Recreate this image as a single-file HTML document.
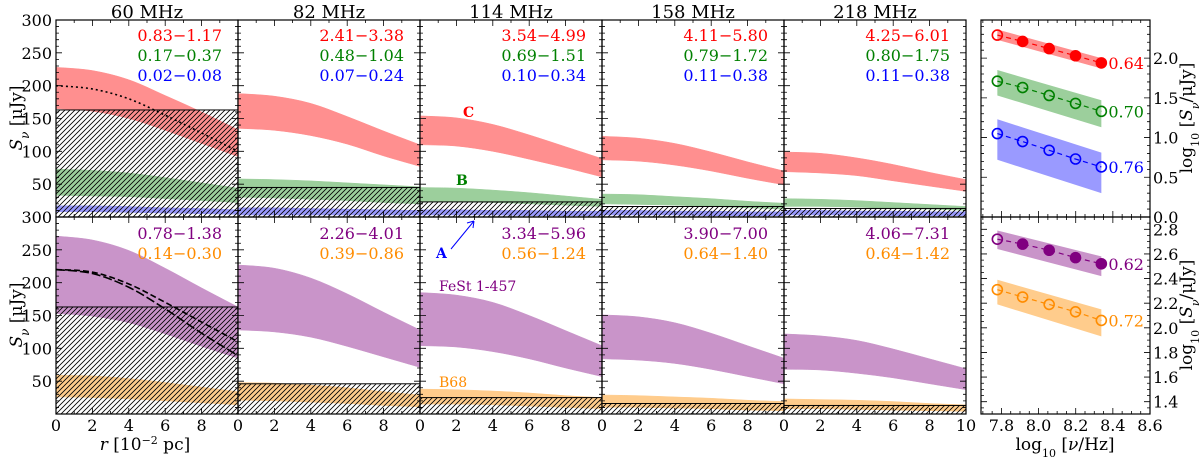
<!DOCTYPE html>
<html><head><meta charset="utf-8">
<style>
html,body{margin:0;padding:0;background:#fff;}
svg{display:block;font-family:"DejaVu Serif","Liberation Serif",serif;}
</style></head>
<body>
<svg id="chart" width="1200" height="459" viewBox="0 0 1200 459" xmlns="http://www.w3.org/2000/svg">
<defs>
<pattern id="hatch" patternUnits="userSpaceOnUse" width="5" height="5">
<path d="M-1,6 L6,-1 M-3.5,3.5 L3.5,-3.5 M1.5,8.5 L8.5,1.5" stroke="#000" stroke-width="0.8"/>
</pattern>
</defs>
<g id="root"></g>
</svg>
<script>
const rGrid=[0,2,4,6,8,10];
const freqLabels=['60 MHz','82 MHz','114 MHz','158 MHz','218 MHz'];
const redUp=[[228,223,209,185,160,133],[188,184,173,153,131,110],[154,151,141,125,107,89],[123,120,112,99,84,70],[99,97,90,80,68,57]];
const redLo=[[165,161,150,132,112,92],[135,132,124,111,93,77],[110,108,100,88,75,61],[87,85,79,70,59,49],[69,67,63,55,47,39]];
const greenUp=[[73,71,67,60,52,44],[58,57,55,52,49,46],[45,44,41,37,32,27],[35,34,31,28,24,21],[28,27,25,22,19,16]];
const greenLo=[[33,32,31,28,25,22],[30,29,27,25,22,20],[24,23,22,20,18,16],[20,19,18,16,14,12],[16,16,15,13,12,10]];
const blueUp=[[17,17,16,14,13,11],[14,14,13,12,11,10],[11,11,10,10,9,9],[10,10,9,9,8,8],[10,10,9,9,8,8]];
const blueLo=[[8,8,7,6,5,4],[3,3,3,3,3,3],[3,3,3,2,2,2],[3,3,3,2,2,2],[3,3,3,2,2,2]];
const dottedC=[200,195,180,155,128,100];
const hatchTop=[163,45,23,16,13];
const purpleUp=[[271,265,249,222,192,163],[227,222,207,183,155,128],[185,181,170,150,127,104],[151,148,139,123,104,85],[122,119,112,99,84,69]];
const purpleLo=[[153,149,139,122,103,85],[128,125,117,103,87,71],[104,102,95,84,70,57],[84,82,77,68,57,46],[68,67,62,55,46,37]];
const orangeUp=[[59,58,54,48,41,34],[48,47,44,40,34,29],[38,37,35,32,28,25],[29,28,26,24,21,19],[23,22,21,19,16,14]];
const orangeLo=[[26,25,23,20,17,14],[21,20,18,16,13,11],[15,15,14,12,10,8],[10,10,9,8,6,5],[8,8,7,6,5,4]];
const dashA=[220,216,198,170,140,110];
const dashB=[220,214,193,160,123,89];
const hatchBot=[163,46,25,16,13];
const rangeRed=['0.83\u22121.17','2.41\u22123.38','3.54\u22124.99','4.11\u22125.80','4.25\u22126.01'];
const rangeGreen=['0.17\u22120.37','0.48\u22121.04','0.69\u22121.51','0.79\u22121.72','0.80\u22121.75'];
const rangeBlue=['0.02\u22120.08','0.07\u22120.24','0.10\u22120.34','0.11\u22120.38','0.11\u22120.38'];
const rangePurple=['0.78\u22121.38','2.26\u22124.01','3.34\u22125.96','3.90\u22127.00','4.06\u22127.31'];
const rangeOrange=['0.14\u22120.30','0.39\u22120.86','0.56\u22121.24','0.64\u22121.40','0.64\u22121.42'];
const yTicksTop=[50,100,150,200,250,300];
const yTicksBot=[50,100,150,200,250,300];
const xTicks=[0,2,4,6,8,10];
const logNu=[7.778,7.914,8.057,8.199,8.338];
const redLog=[2.29,2.21,2.12,2.03,1.94];
const greenLog=[1.71,1.63,1.53,1.43,1.33];
const blueLog=[1.05,0.95,0.84,0.73,0.63];
const purpleLog=[2.72,2.68,2.63,2.57,2.52];
const orangeLog=[2.31,2.25,2.19,2.13,2.06];
const redBandUp=[2.36,2.00];const redBandLo=[2.23,1.87];
const greenBandUp=[1.85,1.47];const greenBandLo=[1.53,1.13];
const blueBandUp=[1.23,0.81];const blueBandLo=[0.72,0.30];
const purpleBandUp=[2.79,2.58];const purpleBandLo=[2.64,2.42];
const orangeBandUp=[2.39,2.15];const orangeBandLo=[2.19,1.93];
const filledRed=[0,1,1,1,1];const filledPurple=[0,1,1,1,1];
const slopeLabels=['0.64','0.70','0.76','0.62','0.72'];
const specXTicks=[7.8,8.0,8.2,8.4,8.6];
const specYTicksTop=[0.0,0.5,1.0,1.5,2.0];
const specYTicksBot=[1.4,1.6,1.8,2.0,2.2,2.4,2.6,2.8];

const NS='http://www.w3.org/2000/svg';
const root=document.getElementById('root');
function mk(tag,attrs,parent){const e=document.createElementNS(NS,tag);for(const k in attrs)e.setAttribute(k,attrs[k]);(parent||root).appendChild(e);return e;}
const P0=56,PW=182;
const TOP={y0:20,y1:217},BOT={y0:217,y1:414};
const VMAX=300;
function xr(i,r){return P0+i*PW+r/10*PW;}
function yv(row,v){return row.y1-v/VMAX*(row.y1-row.y0);}
function smoothPts(pts){let d='';for(let k=0;k<pts.length-1;k++){const p0=pts[Math.max(0,k-1)],p1=pts[k],p2=pts[k+1],p3=pts[Math.min(pts.length-1,k+2)];
const c1=[p1[0]+(p2[0]-p0[0])/6,p1[1]+(p2[1]-p0[1])/6],c2=[p2[0]-(p3[0]-p1[0])/6,p2[1]-(p3[1]-p1[1])/6];
d+=' C'+c1[0].toFixed(2)+','+c1[1].toFixed(2)+' '+c2[0].toFixed(2)+','+c2[1].toFixed(2)+' '+p2[0].toFixed(2)+','+p2[1].toFixed(2);}return d;}
function curvePath(i,row,vals){const pts=rGrid.map((r,k)=>[xr(i,r),yv(row,vals[k])]);return 'M'+pts[0][0]+','+pts[0][1]+smoothPts(pts);}
function bandPath(i,row,up,lo){const pu=rGrid.map((r,k)=>[xr(i,r),yv(row,up[k])]);const pl=rGrid.map((r,k)=>[xr(i,r),yv(row,lo[k])]).reverse();
return 'M'+pu[0][0]+','+pu[0][1]+smoothPts(pu)+' L'+pl[0][0]+','+pl[0][1]+smoothPts(pl)+' Z';}

const defs=document.querySelector('defs');
function clip(id,x,y,w,h){const c=document.createElementNS(NS,'clipPath');c.setAttribute('id',id);const r=document.createElementNS(NS,'rect');r.setAttribute('x',x);r.setAttribute('y',y);r.setAttribute('width',w);r.setAttribute('height',h);c.appendChild(r);defs.appendChild(c);}

function drawPanel(i,row,bands,hatchV,rowName){
  const cid='clip-'+rowName+i;clip(cid,xr(i,0),row.y0,PW,row.y1-row.y0);
  const g=mk('g',{'clip-path':'url(#'+cid+')'});
  
  
  bands.forEach(b=>{const p=mk('path',{d:bandPath(i,row,b.up[i],b.lo[i]),fill:b.fill,stroke:b.fill,'stroke-width':0.5},g);
    
    });
  const hy=yv(row,hatchV[i]);
  const h=mk('rect',{x:xr(i,0),y:hy,width:PW,height:row.y1-hy,fill:'url(#hatch)',stroke:'#000','stroke-width':1},g);
  
  
  return g;
}
function frame(i,row){
  const x0=xr(i,0),x1=xr(i,10);
  const f=mk('rect',{x:x0,y:row.y0,width:PW,height:row.y1-row.y0,fill:'none',stroke:'#000','stroke-width':1.2});
  
  
  let d='';
  for(let v=0;v<=300;v+=10){const y=yv(row,v);const L=(v%50===0)?6:3;d+='M'+x0+','+y+'h'+L+'M'+x1+','+y+'h'+(-L);}
  for(let r=0;r<=10;r+=1){const x=xr(i,r);const L=(r%2===0)?6:3;d+='M'+x+','+row.y0+'v'+L+'M'+x+','+row.y1+'v'+(-L);}
  const t=mk('path',{d:d,stroke:'#000','stroke-width':0.8,fill:'none'});
  
  
}
function txt(x,y,s,attrs,name){const t=mk('text',Object.assign({x:x,y:y},attrs||{}));t.textContent=s;return t;}
function rich(x,y,parts,attrs,name){const t=mk('text',Object.assign({x:x,y:y},attrs||{}));parts.forEach(p=>{const s=document.createElementNS(NS,'tspan');if(p[1])s.setAttribute('font-style','italic');if(p[2])s.setAttribute('baseline-shift',p[2]);if(p[3])s.setAttribute('font-size',p[3]);s.textContent=p[0];t.appendChild(s);});return t;}

const topBands=[{name:'core-c',up:redUp,lo:redLo,fill:'#ff8f8f'},{name:'core-b',up:greenUp,lo:greenLo,fill:'#9ccf9c'},{name:'core-a',up:blueUp,lo:blueLo,fill:'#9a9aff'}];
const botBands=[{name:'fest-1-457',up:purpleUp,lo:purpleLo,fill:'#c994c9'},{name:'b68',up:orangeUp,lo:orangeLo,fill:'#ffcc8c'}];
for(let i=0;i<5;i++){
  drawPanel(i,TOP,topBands,hatchTop,'top');
  drawPanel(i,BOT,botBands,hatchBot,'bottom');
  if(i===0){
    const dl=mk('path',{d:curvePath(0,TOP,dottedC),fill:'none',stroke:'#000','stroke-width':1.6,'stroke-dasharray':'2,3'});
    
    
    const da=mk('path',{d:curvePath(0,BOT,dashA),fill:'none',stroke:'#000','stroke-width':1.6,'stroke-dasharray':'6,3'});
    
    
    const db=mk('path',{d:curvePath(0,BOT,dashB),fill:'none',stroke:'#000','stroke-width':1.6,'stroke-dasharray':'9,3'});
    
    
  }
  frame(i,TOP);frame(i,BOT);
  const cx=xr(i,5);
  txt(cx,18,freqLabels[i],{'text-anchor':'middle','font-size':18},'frequency-title');
  const rx=xr(i,10)-16;
  txt(rx,41,rangeRed[i],{'text-anchor':'end','font-size':16,fill:'#ff0000'},'range-core-c');
  txt(rx,61,rangeGreen[i],{'text-anchor':'end','font-size':16,fill:'#008000'},'range-core-b');
  txt(rx,81,rangeBlue[i],{'text-anchor':'end','font-size':16,fill:'#0000ff'},'range-core-a');
  txt(rx,239,rangePurple[i],{'text-anchor':'end','font-size':16,fill:'#800080'},'range-fest');
  txt(rx,259,rangeOrange[i],{'text-anchor':'end','font-size':16,fill:'#ff8c00'},'range-b68');
  xTicks.forEach(r=>{if(r===10&&i<4)return;txt(xr(i,r),431,String(r),{'text-anchor':'middle','font-size':16},'x-tick-label');});
}
yTicksTop.forEach(v=>txt(52,yv(TOP,v)+6,String(v),{'text-anchor':'end','font-size':16},'y-tick-label-top'));
yTicksBot.forEach(v=>{if(v===300)return;txt(52,yv(BOT,v)+6,String(v),{'text-anchor':'end','font-size':16},'y-tick-label-bottom');});
txt(52,yv(BOT,300)+6,'300',{'text-anchor':'end','font-size':16},'y-tick-label-bottom');
rich(145,450,[['r',true],[' [10'],['\u22122',false,'super','11'],[' pc]']],{'text-anchor':'middle','font-size':17},'x-axis-title');
rich(0,0,[['S',true],['\u03BD',true,'sub','12'],[' [\u03BCJy]']],{'text-anchor':'middle','font-size':17,transform:'translate(22,118) rotate(-90)'},'y-axis-title-top');
rich(0,0,[['S',true],['\u03BD',true,'sub','12'],[' [\u03BCJy]']],{'text-anchor':'middle','font-size':17,transform:'translate(22,315) rotate(-90)'},'y-axis-title-bottom');
txt(463,117,'C',{'font-size':14,'font-weight':'bold',fill:'#ff0000'},'label-core-c');
txt(456,185,'B',{'font-size':14,'font-weight':'bold',fill:'#008000'},'label-core-b');
txt(436,258,'A',{'font-size':14,'font-weight':'bold',fill:'#0000ff'},'label-core-a');
const ar=mk('path',{d:'M451,249 L474,221 M474,221 l-7,2 M474,221 l-1,7',stroke:'#0000ff','stroke-width':1,fill:'none'});


txt(439,291,'FeSt 1-457',{'font-size':14,fill:'#800080'},'label-fest');
txt(439,387,'B68',{'font-size':14,fill:'#ff8c00'},'label-b68');

const SX0=981,SX1=1150,NU0=7.69,NU1=8.6;
function sx(n){return SX0+(n-NU0)/(NU1-NU0)*(SX1-SX0);}
const STOP={y0:20,y1:217,lo:0,hi:2.48},SBOT={y0:217,y1:414,lo:1.3,hi:2.9};
function sy(p,v){return p.y1-(v-p.lo)/(p.hi-p.lo)*(p.y1-p.y0);}
function specSeries(p,vals,bu,bl,fill,color,filled,label,name){
  const xa=sx(logNu[0]),xb=sx(logNu[logNu.length-1]);
  const b=mk('path',{d:'M'+xa+','+sy(p,bu[0])+'L'+xb+','+sy(p,bu[1])+'L'+xb+','+sy(p,bl[1])+'L'+xa+','+sy(p,bl[0])+'Z',fill:fill});
  
  
  const l=mk('polyline',{points:logNu.map((n,k)=>sx(n)+','+sy(p,vals[k])).join(' '),fill:'none',stroke:color,'stroke-width':1.2,'stroke-dasharray':'5,4'});
  
  
  logNu.forEach((n,k)=>{const c=mk('circle',{cx:sx(n),cy:sy(p,vals[k]),r:5,fill:(filled&&filled[k])?color:'none',stroke:color,'stroke-width':1.6});
    
    });
  txt(xb+7,sy(p,vals[vals.length-1])+6,label,{'font-size':16,fill:color},name+'-spectral-index');
}
specSeries(STOP,redLog,redBandUp,redBandLo,'#ff8f8f','#ff0000',filledRed,slopeLabels[0],'core-c');
specSeries(STOP,greenLog,greenBandUp,greenBandLo,'#9ccf9c','#008000',null,slopeLabels[1],'core-b');
specSeries(STOP,blueLog,blueBandUp,blueBandLo,'#9a9aff','#0000ff',null,slopeLabels[2],'core-a');
specSeries(SBOT,purpleLog,purpleBandUp,purpleBandLo,'#c994c9','#800080',filledPurple,slopeLabels[3],'fest');
specSeries(SBOT,orangeLog,orangeBandUp,orangeBandLo,'#ffcc8c','#ff8c00',null,slopeLabels[4],'b68');
[STOP,SBOT].forEach((p,pi)=>{
  const f=mk('rect',{x:SX0,y:p.y0,width:SX1-SX0,height:p.y1-p.y0,fill:'none',stroke:'#000','stroke-width':1.2});
  
  
  let d='';
  const maj=pi===0?0.5:0.2,mn=pi===0?0.1:0.05;
  for(let v=Math.ceil(p.lo/mn)*mn;v<=p.hi+1e-9;v+=mn){const y=sy(p,v);const L=(Math.abs(v/maj-Math.round(v/maj))<1e-6)?6:3;d+='M'+SX0+','+y+'h'+L+'M'+SX1+','+y+'h'+(-L);}
  for(let n=7.7;n<=8.6+1e-9;n+=0.05){const x=sx(n);const L=(Math.abs(n/0.2-Math.round(n/0.2))<1e-6)?6:3;d+='M'+x+','+p.y0+'v'+L+'M'+x+','+p.y1+'v'+(-L);}
  const t=mk('path',{d:d,stroke:'#000','stroke-width':0.8,fill:'none'});
  
  
});
specYTicksTop.forEach(v=>txt(1153,sy(STOP,v)+6,v.toFixed(1),{'font-size':16},'spectral-y-tick-top'));
specYTicksBot.forEach(v=>txt(1153,sy(SBOT,v)+6,v.toFixed(1),{'font-size':16},'spectral-y-tick-bottom'));
specXTicks.forEach(n=>txt(sx(n),431,n.toFixed(1),{'text-anchor':'middle','font-size':16},'spectral-x-tick'));
rich(1065,450,[['log'],['10',false,'sub','11'],[' ['],['\u03BD',true],['/Hz]']],{'text-anchor':'middle','font-size':17},'spectral-x-axis-title');
rich(0,0,[['log'],['10',false,'sub','11'],[' ['],['S',true],['\u03BD',true,'sub','11'],['/\u03BCJy]']],{'text-anchor':'middle','font-size':17,transform:'translate(1192,118) rotate(-90)'},'spectral-y-axis-title-top');
rich(0,0,[['log'],['10',false,'sub','11'],[' ['],['S',true],['\u03BD',true,'sub','11'],['/\u03BCJy]']],{'text-anchor':'middle','font-size':17,transform:'translate(1192,315) rotate(-90)'},'spectral-y-axis-title-bottom');
</script>
</body></html>
